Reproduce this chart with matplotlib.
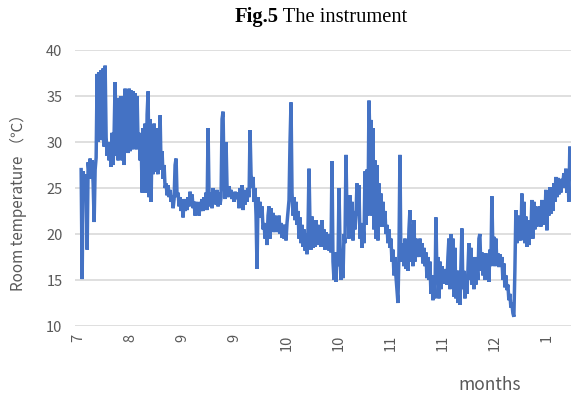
import numpy as np
import matplotlib
matplotlib.use("Agg")
import matplotlib.pyplot as plt

plt.rcParams['font.family'] = ['Noto Sans CJK SC', 'DejaVu Sans']

# room temperature readings left to right
jul_aug = [27.0, 15.1, 26.8, 25.2, 26.5, 25.0, 18.3, 27.8, 26.5, 28.2, 26.0, 28.0, 25.5, 21.3,
           27.0, 28.3, 37.4, 30.0, 37.6, 30.5, 37.8, 30.2, 38.0, 29.5, 38.3, 30.5, 28.5, 30.0,
           28.0, 29.8, 27.3, 31.0, 27.5, 31.0, 36.5, 28.5, 33.0, 28.0, 34.8, 28.5, 35.0, 28.0,
           35.0, 27.5, 35.8, 29.5, 35.7, 28.8, 35.8, 29.0, 35.6, 29.2, 35.5, 29.5, 35.3, 29.2,
           35.0, 29.5, 31.0, 28.0, 30.5, 24.5, 31.5, 24.5, 32.0, 24.5, 33.0, 35.5, 24.0, 32.5,
           23.5, 31.0, 26.5, 32.0, 26.8, 31.5, 27.0]
aug_sep = [26.5, 29.5, 32.9, 27.0, 29.0, 26.0, 27.5, 25.0, 25.5, 24.2, 25.3, 24.0, 24.8, 23.5,
           24.2, 22.8, 23.8, 27.5, 28.2, 24.0, 24.5, 23.0, 24.0, 22.5, 23.5, 21.8, 23.8, 22.5,
           23.5, 22.6, 24.0, 23.0, 24.6, 23.5, 24.3, 22.8, 23.5, 22.0, 23.5, 22.3, 23.2, 22.0,
           23.5, 22.5, 23.8, 22.5, 24.0, 23.0, 24.5, 22.6, 31.5, 24.0, 23.0, 24.5, 22.8, 25.0,
           23.5, 24.5, 23.2, 24.8, 23.0, 24.5, 23.2, 24.0, 32.5, 33.3, 26.0, 23.8, 30.0, 25.0,
           24.0, 25.2, 24.2, 24.8, 23.8, 24.5, 23.5, 24.6, 23.8, 24.2]
sep_oct = [24.5, 22.8, 25.0, 23.0, 25.3, 22.6, 24.8, 23.2, 24.5, 23.5, 25.0, 24.0, 31.3, 26.5,
           25.0, 26.2, 23.5, 25.0, 22.0, 16.2, 24.0, 22.5, 23.5, 21.8, 23.0, 20.5, 21.2, 19.5,
           21.0, 18.8, 22.0, 23.0, 19.5, 22.8, 20.5, 22.3, 20.2, 22.0, 20.5, 21.8, 20.2, 22.0,
           20.0, 21.2, 19.6, 21.0, 19.5, 21.0, 19.3, 21.2, 22.5, 23.7, 30.0, 34.3, 24.5, 22.0,
           24.0, 21.5, 23.5, 21.0, 22.5, 19.5, 21.8, 19.0, 21.0, 18.6, 20.5, 18.2, 20.0, 17.8,
           20.5, 27.1, 21.0, 18.3, 21.9, 18.5, 21.0, 18.6, 21.5, 18.8, 21.0, 19.5]
oct_nov = [20.5, 18.6, 21.5, 19.0, 20.5, 18.3, 20.2, 18.5, 19.8, 18.2, 20.0, 18.0, 27.9, 17.0,
           15.0, 18.0, 14.8, 17.5, 16.5, 25.0, 19.0, 15.0, 18.0, 15.2, 20.0, 19.0, 28.6, 22.0,
           24.0, 19.5, 24.2, 20.0, 23.5, 19.3, 22.5, 20.5, 22.0, 25.5, 22.0, 25.3, 19.5, 21.2,
           18.5, 21.0, 19.0, 26.8, 21.0, 27.0, 22.0, 34.5, 30.0, 32.4, 22.0, 31.5, 20.5, 28.0,
           19.5, 27.5, 19.3, 25.5, 21.0, 24.4, 20.8, 23.5, 21.0, 22.5, 20.0, 21.0, 19.0, 20.5,
           18.5, 19.5, 17.0, 18.3, 15.5, 17.5, 15.4, 14.0, 12.5, 18.0, 28.6, 17.0]
nov_dec = [17.5, 19.0, 16.5, 19.5, 16.2, 18.5, 16.0, 20.5, 22.6, 17.0, 21.0, 16.5, 21.5, 17.0,
           19.5, 17.5, 19.3, 17.5, 19.5, 17.8, 19.0, 16.8, 18.5, 16.5, 18.0, 15.2, 17.5, 15.0,
           17.0, 13.5, 15.5, 12.8, 15.0, 13.0, 21.8, 15.5, 17.5, 13.0, 17.0, 14.0, 16.5, 14.8,
           16.0, 14.6, 16.2, 14.5, 17.5, 19.5, 14.0, 20.0, 15.0, 19.5, 13.2, 18.5, 13.0, 16.0,
           12.5, 16.0, 12.3, 16.5, 20.6, 14.0, 16.0, 13.0, 15.5, 13.5, 16.0, 19.0, 15.0, 18.5,
           14.5, 17.0, 14.0, 17.5, 14.5, 16.5, 15.0, 19.5, 20.0, 16.0, 18.0, 15.5]
dec_jan = [17.5, 15.0, 17.9, 15.2, 17.5, 14.8, 18.3, 16.5, 24.1, 18.0, 19.7, 16.5, 19.5, 16.8,
           17.9, 16.4, 17.8, 16.5, 17.5, 15.0, 16.8, 14.2, 15.5, 13.9, 14.5, 12.8, 13.5, 12.0,
           12.5, 11.4, 11.0, 16.0, 22.6, 19.0, 22.0, 19.5, 20.1, 19.3, 24.4, 19.5, 23.5, 19.0,
           21.9, 18.6, 21.5, 18.8, 21.0, 20.0, 23.7, 19.5, 23.5, 20.5, 23.0, 20.8, 22.5, 21.0,
           23.0, 20.8, 23.7, 21.0, 23.5, 21.5, 24.8, 20.4, 24.5, 22.0, 25.1, 22.2, 24.8, 22.5,
           25.5, 23.5, 26.2, 24.0, 26.1, 24.3, 25.8, 24.5, 26.0, 25.5, 26.6, 25.0, 27.1, 24.5,
           27.0, 23.5, 29.5, 26.0]

month_labels = ["7", "8", "9", "9", "10", "10", "11", "11", "12", "1"]

temps = jul_aug + aug_sep + sep_oct + oct_nov + nov_dec + dec_jan
x = np.linspace(0.06, 9.46, len(temps))

fig = plt.figure(figsize=(5.71, 4.0), dpi=100)
ax = fig.add_axes([75 / 571, 0.185, 1 - 75 / 571, 0.69])

ax.plot(x, temps, color="#4472C4", linewidth=2.5, solid_joinstyle="miter")

ax.set_ylim(10, 40)
ax.set_yticks(range(10, 41, 5))
ax.set_xlim(-0.058, 9.463)
ax.set_xticks(range(len(month_labels)))
ax.set_xticklabels(month_labels, rotation=90)
ax.grid(axis="y", color="#d9d9d9", linewidth=1.2)
ax.set_axisbelow(True)
for s in ax.spines.values():
    s.set_visible(False)
ax.tick_params(length=0, colors="#595959", labelsize=10.5)
ax.tick_params(axis="y", pad=9)
ax.tick_params(axis="x", pad=6)

fig.text(18 / 571, 1 - 199 / 400, "Room temperature （℃）", rotation=90,
         ha="center", va="center", color="#595959", fontsize=11)
fig.text(490 / 571, 1 - 385 / 400, "months", ha="center", va="center",
         color="#595959", fontsize=12.5)

# title: bold "Fig.5" followed by plain text, centred over the plot
r = fig.canvas.get_renderer()
t1 = fig.text(0, 0, "Fig.5", fontfamily="Liberation Serif", fontweight="bold", fontsize=14.8)
t2 = fig.text(0, 0, " The instrument", fontfamily="Liberation Serif", fontsize=14.8)
w1 = t1.get_window_extent(r).width
w2 = t2.get_window_extent(r).width
x0 = 321 - (w1 + w2) / 2
ty = 1 - 22 / 400
t1.set_position((x0 / 571, ty))
t2.set_position(((x0 + w1) / 571, ty))

fig.savefig("out.png", dpi=100)
